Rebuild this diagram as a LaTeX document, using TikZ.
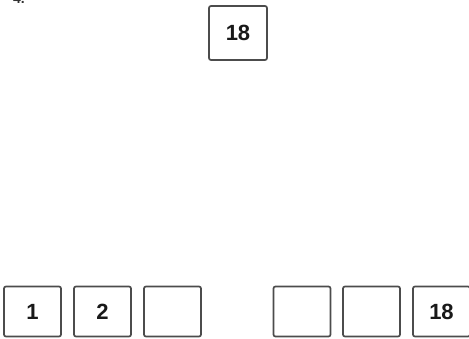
\documentclass[tikz,border=0pt]{standalone}
\usepackage{fontspec}
\setmainfont{Liberation Sans}
\begin{document}
\begin{tikzpicture}[x=1pt,y=1pt,
  numbox/.style={draw=black!70, line width=1.7pt, rounded corners=2pt, fill=white,
    minimum width=57pt, minimum height=50pt, inner sep=0pt,
    font=\fontsize{22}{24}\selectfont\bfseries, text=black!90},
  label4/.style={font=\fontsize{14}{16}\selectfont\bfseries, text=black!80, inner sep=0pt}]
\useasboundingbox (0,0) rectangle (469,338);
\node[label4, anchor=base west] (lbl) at (13,334) {4.};
\node[numbox, minimum width=58pt, minimum height=54pt] (top) at (238,305) {18};
\node[numbox] (b1) at (32.5,26.5) {1};
\node[numbox] (b2) at (102.5,26.5) {2};
\node[numbox] (b3) at (172.5,26.5) {};
\node[numbox] (b4) at (302,26.5) {};
\node[numbox] (b5) at (371.5,26.5) {};
\node[numbox] (b6) at (441.5,26.5) {18};
\end{tikzpicture}
\end{document}
